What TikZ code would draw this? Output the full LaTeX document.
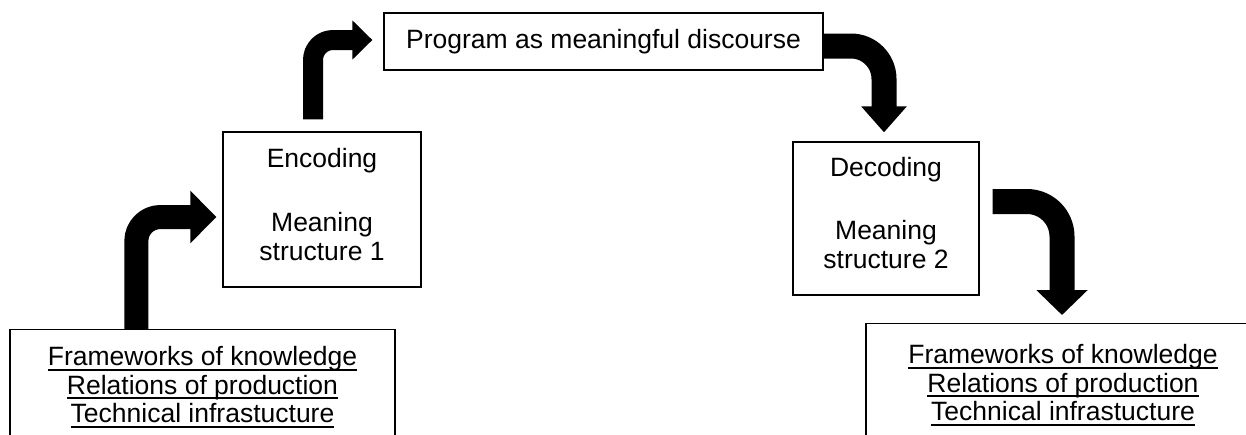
\documentclass[tikz,border=0pt]{standalone}
\usepackage{fontspec}
\setmainfont{Liberation Sans}
\usepackage{tikz}
\usetikzlibrary{calc}
\usetikzlibrary{arrows.meta}
\newcommand{\undertext}[1]{\setbox0\hbox{#1}\rlap{\rule[-5pt]{\wd0}{1.8pt}}\box0}

\begin{document}
\begin{tikzpicture}[x=1pt,y=-1pt,
    box/.style={draw, line width=1.3pt, align=center, inner sep=0pt},
    listbox/.style={box, anchor=north, text depth=60pt},
    fatarrow/.style={line width=#1, line join=round}]
        \useasboundingbox (0,0) rectangle (1246,434);
        \clip (0,0) rectangle (1246,434);
        \fontsize{26.5}{28.4}\selectfont

        \node[box, minimum width=439pt, minimum height=57pt] (prog) at (603.5,41.5) {Program as meaningful discourse};
        \node[box, minimum width=198pt, minimum height=155pt, text height=112pt, text depth=11pt] (enc) at (322,209.5)
            {Encoding\\[35.6pt]Meaning\\structure 1};
        \node[box, minimum width=186pt, minimum height=153pt, text height=111pt, text depth=12pt] (dec) at (886,218.5)
            {Decoding\\[34.6pt]Meaning\\structure 2};

        \node[listbox, minimum width=385pt, inner ysep=17pt] (fwl) at (202.5,329)
            {\undertext{Frameworks of knowledge}\\\undertext{Relations of production}\\\undertext{Technical infrastucture}};
        \node[listbox, minimum width=394pt, inner ysep=21pt] (fwr) at (1063,323)
            {\undertext{Frameworks of knowledge}\\\undertext{Relations of production}\\\undertext{Technical infrastucture}};

        \draw[fatarrow=24pt, rounded corners=24pt, -{Triangle[length=26pt,width=51pt]}]
            ($(fwl.north west)+(127,0)$) |- ($(enc.west)+(-6,7.5)$);
        \draw[fatarrow=20pt, rounded corners=20pt, -{Triangle[length=20pt,width=38pt]}]
            ($(enc.north)+(-9,-12)$) |- ($(prog.west)+(-11,-1.5)$);
        \draw[fatarrow=25pt, rounded corners=33pt, -{Triangle[length=26pt,width=44pt]}]
            ($(prog.east)+(0,4.5)$) -| ($(dec.north)+(-2,-9)$);
        \draw[fatarrow=25pt, rounded corners=35pt, -{Triangle[length=25pt,width=50pt]}]
            ($(dec.east)+(13,-17)$) -| ($(fwr.north)+(-1,-8)$);
      \end{tikzpicture}
\end{document}
